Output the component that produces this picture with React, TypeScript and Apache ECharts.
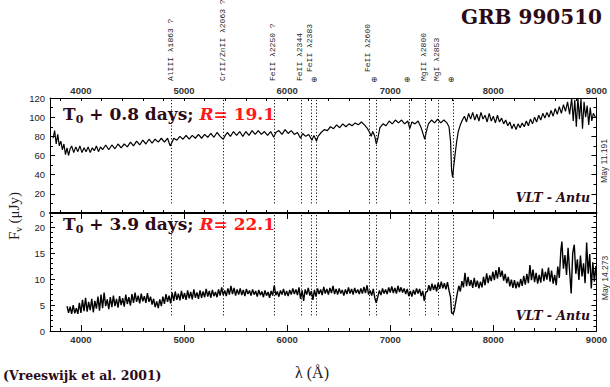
import React, { useEffect, useRef } from "react";
import * as echarts from "echarts";

// ---------- data ----------
const xMajorTicks = [4000, 5000, 6000, 7000, 8000, 9000];
const xMinorTicks = [3800, 4000, 4200, 4400, 4600, 4800, 5000, 5200, 5400, 5600, 5800, 6000, 6200, 6400, 6600, 6800, 7000, 7200, 7400, 7600, 7800, 8000, 8200, 8400, 8600, 8800];

const markerWavelengths = [4880, 5383, 5876, 6137, 6234, 6282, 6795, 6862, 7182, 7336, 7462, 7607];
const markerLabels = ["AlIII λ1863 ?", "CrII/ZnII λ2063 ?", "FeII λ2250 ?", "FeII λ2344", "FeII λ2383", "⊕", "FeII λ2600", "⊕", "⊕", "MgII λ2800", "MgI λ2853", "⊕"];

const upperSpectrum: [number, number][] = [
  [3730, 78], [3745, 86], [3760, 72], [3775, 82], [3790, 70], [3805, 75], [3820, 66], [3835, 72], [3850, 61], [3865, 68],
  [3880, 60], [3895, 67], [3910, 70], [3930, 63], [3950, 69], [3970, 64], [3990, 70], [4010, 63], [4030, 68], [4050, 64],
  [4070, 69], [4090, 63], [4110, 68], [4130, 65], [4150, 70], [4170, 64], [4190, 69], [4210, 66], [4240, 71], [4270, 66],
  [4300, 71], [4330, 67], [4360, 72], [4390, 68], [4420, 72], [4450, 69], [4480, 74], [4510, 70], [4540, 75], [4570, 71],
  [4600, 76], [4630, 72], [4660, 77], [4690, 73], [4720, 77], [4750, 74], [4780, 78], [4810, 74], [4840, 78], [4865, 70],
  [4885, 74], [4900, 78], [4930, 76], [4960, 80], [4990, 77], [5020, 81], [5050, 77], [5080, 81], [5110, 78], [5140, 82],
  [5170, 78], [5200, 82], [5230, 79], [5260, 83], [5290, 79], [5320, 84], [5350, 80], [5380, 77], [5400, 81], [5420, 84],
  [5450, 80], [5480, 85], [5510, 81], [5540, 85], [5570, 80], [5600, 85], [5630, 81], [5660, 86], [5690, 82], [5720, 86],
  [5750, 82], [5780, 85], [5810, 81], [5840, 85], [5870, 79], [5890, 84], [5920, 86], [5950, 82], [5980, 87], [6010, 83],
  [6040, 86], [6070, 82], [6100, 84], [6130, 78], [6150, 83], [6180, 80], [6210, 82], [6240, 76], [6260, 81], [6285, 75],
  [6300, 80], [6330, 84], [6360, 87], [6390, 86], [6420, 90], [6450, 88], [6480, 92], [6510, 89], [6540, 93], [6570, 90],
  [6600, 93], [6630, 91], [6660, 94], [6690, 92], [6720, 95], [6750, 92], [6780, 88], [6800, 84], [6815, 80], [6830, 85],
  [6850, 80], [6865, 72], [6880, 78], [6900, 89], [6930, 93], [6960, 91], [6990, 96], [7020, 93], [7050, 97], [7080, 94],
  [7110, 97], [7140, 93], [7170, 96], [7190, 88], [7210, 95], [7240, 93], [7270, 96], [7300, 89], [7320, 82], [7335, 77],
  [7350, 85], [7370, 93], [7400, 97], [7430, 94], [7460, 98], [7490, 94], [7520, 97], [7550, 94], [7570, 90], [7585, 75],
  [7595, 45], [7605, 37], [7615, 48], [7630, 62], [7645, 75], [7660, 85], [7680, 92], [7700, 97], [7720, 101], [7740, 95],
  [7760, 104], [7780, 98], [7800, 105], [7820, 97], [7840, 103], [7860, 96], [7880, 105], [7900, 98], [7920, 102], [7940, 95],
  [7960, 104], [7980, 96], [8000, 101], [8020, 94], [8040, 102], [8060, 95], [8080, 99], [8100, 93], [8120, 97], [8140, 91],
  [8160, 95], [8180, 88], [8200, 93], [8220, 87], [8240, 93], [8260, 89], [8280, 94], [8300, 90], [8320, 96], [8340, 91],
  [8360, 98], [8380, 93], [8400, 100], [8420, 95], [8440, 102], [8460, 97], [8480, 104], [8500, 99], [8520, 105], [8540, 100],
  [8560, 107], [8580, 101], [8600, 109], [8620, 103], [8640, 111], [8660, 104], [8680, 113], [8700, 106], [8720, 116], [8740, 103],
  [8760, 120], [8775, 96], [8790, 118], [8805, 90], [8820, 120], [8835, 98], [8850, 119], [8865, 88], [8880, 116], [8895, 100],
  [8910, 112], [8925, 92], [8940, 110], [8955, 96], [8970, 104], [8990, 100],
];

const lowerSpectrum: [number, number][] = [
  [3865, 4.8], [3880, 3.5], [3895, 4.7], [3910, 3.3], [3925, 5.0], [3940, 3.4], [3955, 4.4], [3970, 3.3], [3985, 5.4], [4000, 3.5],
  [4015, 6.0], [4030, 3.8], [4045, 6.4], [4060, 3.7], [4075, 5.6], [4090, 4.0], [4105, 6.2], [4120, 3.6], [4135, 5.8], [4150, 4.3],
  [4165, 6.6], [4180, 3.9], [4195, 7.0], [4210, 4.4], [4225, 7.4], [4240, 4.8], [4255, 6.1], [4270, 4.2], [4285, 6.5], [4300, 4.6],
  [4315, 6.8], [4330, 4.8], [4345, 6.2], [4360, 4.5], [4375, 6.7], [4390, 5.0], [4405, 6.3], [4420, 4.7], [4435, 7.0], [4450, 5.2],
  [4465, 6.5], [4480, 4.9], [4495, 7.1], [4510, 5.4], [4525, 7.4], [4540, 5.6], [4555, 6.8], [4570, 5.3], [4585, 7.2], [4600, 5.7],
  [4615, 6.7], [4630, 5.4], [4645, 7.3], [4660, 5.6], [4675, 6.6], [4690, 5.1], [4705, 6.2], [4720, 4.6], [4735, 5.7], [4750, 4.4],
  [4765, 6.1], [4780, 4.8], [4795, 6.6], [4810, 5.2], [4825, 7.1], [4840, 5.6], [4855, 6.8], [4870, 5.3], [4885, 7.4], [4900, 5.8],
  [4915, 7.6], [4930, 6.0], [4945, 7.2], [4960, 5.9], [4975, 7.7], [4990, 6.2], [5005, 7.3], [5020, 6.0], [5035, 7.8], [5050, 6.3],
  [5065, 7.5], [5080, 6.1], [5095, 8.0], [5110, 6.4], [5125, 7.4], [5140, 6.2], [5155, 7.8], [5170, 6.4], [5185, 7.6], [5200, 6.5],
  [5215, 8.1], [5230, 6.6], [5245, 7.7], [5260, 6.4], [5275, 7.9], [5290, 6.7], [5305, 7.5], [5320, 6.5], [5335, 8.0], [5350, 6.8],
  [5365, 8.4], [5380, 6.9], [5395, 7.8], [5410, 6.7], [5425, 8.2], [5440, 7.0], [5455, 8.7], [5470, 7.1], [5485, 8.3], [5500, 6.8],
  [5515, 8.0], [5530, 7.0], [5545, 8.2], [5560, 6.9], [5575, 7.9], [5590, 6.7], [5605, 8.1], [5620, 7.1], [5635, 7.8], [5650, 6.8],
  [5665, 8.0], [5680, 7.0], [5695, 7.7], [5710, 6.6], [5725, 7.9], [5740, 6.9], [5755, 7.6], [5770, 6.5], [5785, 7.8], [5800, 6.8],
  [5815, 7.5], [5830, 6.4], [5845, 7.7], [5860, 6.8], [5875, 8.8], [5890, 6.9], [5905, 7.6], [5920, 6.6], [5935, 7.8], [5950, 7.0],
  [5965, 8.1], [5980, 6.8], [5995, 7.7], [6010, 6.7], [6025, 7.9], [6040, 7.0], [6055, 8.2], [6070, 7.1], [6085, 8.0], [6100, 6.9],
  [6115, 8.4], [6130, 6.2], [6145, 7.8], [6160, 5.8], [6175, 8.0], [6190, 7.0], [6205, 8.3], [6220, 6.8], [6235, 7.7], [6250, 6.0],
  [6265, 7.9], [6280, 6.6], [6295, 8.2], [6310, 7.1], [6325, 8.0], [6340, 6.9], [6355, 8.5], [6370, 7.2], [6385, 8.1], [6400, 7.0],
  [6415, 8.3], [6430, 7.3], [6445, 8.7], [6460, 7.1], [6475, 8.1], [6490, 7.0], [6505, 8.2], [6520, 7.2], [6535, 7.9], [6550, 6.8],
  [6565, 8.0], [6580, 7.1], [6595, 8.4], [6610, 7.2], [6625, 8.1], [6640, 7.0], [6655, 8.3], [6670, 7.3], [6685, 8.0], [6700, 7.1],
  [6715, 8.2], [6730, 7.2], [6745, 8.5], [6760, 7.3], [6775, 8.8], [6790, 7.0], [6805, 7.8], [6820, 6.8], [6835, 8.1], [6850, 6.4],
  [6865, 5.4], [6880, 6.6], [6895, 7.8], [6910, 6.9], [6925, 8.2], [6940, 7.2], [6955, 8.0], [6970, 7.1], [6985, 8.4], [7000, 7.4],
  [7015, 8.6], [7030, 7.3], [7045, 8.3], [7060, 7.2], [7075, 8.7], [7090, 7.5], [7105, 8.4], [7120, 7.4], [7135, 8.2], [7150, 7.1],
  [7165, 8.1], [7180, 6.7], [7195, 7.7], [7210, 6.6], [7225, 7.9], [7240, 7.0], [7255, 8.2], [7270, 7.2], [7285, 8.1], [7300, 6.7],
  [7315, 7.7], [7330, 5.8], [7345, 7.5], [7360, 7.6], [7375, 8.8], [7390, 7.7], [7405, 9.1], [7420, 7.9], [7435, 8.9], [7450, 7.6],
  [7465, 9.3], [7480, 8.1], [7495, 9.5], [7510, 8.2], [7525, 9.2], [7540, 8.0], [7555, 9.4], [7570, 7.8], [7585, 6.5], [7595, 3.5],
  [7610, 3.3], [7620, 3.8], [7635, 5.5], [7650, 7.2], [7665, 8.7], [7680, 7.6], [7695, 9.6], [7710, 8.4], [7725, 11.2], [7740, 8.6],
  [7755, 10.4], [7770, 8.7], [7785, 9.8], [7800, 8.3], [7815, 10.2], [7830, 8.5], [7845, 9.7], [7860, 8.2], [7875, 9.5], [7890, 8.4],
  [7905, 10.4], [7920, 8.8], [7935, 11.1], [7950, 9.2], [7965, 10.7], [7980, 9.6], [7995, 11.4], [8010, 9.8], [8025, 11.7], [8040, 10.1],
  [8055, 12.3], [8070, 10.4], [8085, 11.6], [8100, 9.7], [8115, 11.0], [8130, 9.2], [8145, 10.4], [8160, 8.6], [8175, 9.9], [8190, 8.3],
  [8205, 9.8], [8220, 8.2], [8235, 9.5], [8250, 8.4], [8265, 10.0], [8280, 8.7], [8295, 10.6], [8310, 8.9], [8325, 11.0], [8340, 9.2],
  [8355, 12.7], [8370, 9.8], [8385, 11.8], [8400, 9.4], [8415, 11.2], [8430, 9.1], [8445, 10.8], [8460, 9.3], [8475, 12.0], [8490, 9.6],
  [8505, 11.4], [8520, 9.9], [8535, 12.2], [8550, 9.5], [8565, 11.6], [8580, 9.1], [8595, 10.8], [8610, 8.8], [8625, 12.4], [8640, 10.2],
  [8655, 15.5], [8665, 17.2], [8680, 12.0], [8695, 14.6], [8710, 10.8], [8725, 16.0], [8740, 11.5], [8755, 7.2], [8770, 15.0], [8785, 16.6],
  [8800, 11.0], [8815, 13.8], [8830, 9.8], [8845, 14.5], [8860, 10.5], [8875, 13.0], [8890, 9.2], [8905, 17.0], [8920, 11.0], [8935, 14.8],
  [8950, 8.2], [8965, 13.2], [8980, 9.5], [8995, 12.5],
];

const upperLabel = { days: "0.8", mag: "19.1", date: "May 11.191" };
const lowerLabel = { days: "3.9", mag: "22.1", date: "May 14.273" };

// ---------- styles ----------
const DARK = "#2c0b16";
const RED = "#ff1a1a";
const X_MIN = 3700;
const X_MAX = 9000;

function xAxisDef(grid: number, position: "top" | "bottom", opts: any) {
  return {
    type: "value",
    gridIndex: grid,
    position,
    min: X_MIN,
    max: X_MAX,
    splitLine: { show: false },
    axisLine: opts.line
      ? { show: true, onZero: false, lineStyle: { color: "#000", width: opts.lineWidth || 1 } }
      : { show: false },
    axisTick: {
      show: true,
      inside: true,
      length: opts.tickLen,
      customValues: opts.ticks,
      lineStyle: { color: "#000", width: 1 },
    },
    axisLabel: opts.labels
      ? {
          show: true,
          customValues: xMajorTicks,
          formatter: (v: number) => String(v),
          margin: 3,
          fontFamily: "Liberation Sans",
          fontSize: 9.5,
          fontWeight: "bold",
          color: "#333",
        }
      : { show: false },
  };
}

function yAxisDef(grid: number, position: "left" | "right", max: number, interval: number, minorSplit: number) {
  return {
    type: "value",
    gridIndex: grid,
    position,
    min: 0,
    max,
    interval,
    splitLine: { show: false },
    axisLine: { show: true, onZero: false, lineStyle: { color: "#000", width: 1 } },
    axisTick: { show: true, inside: true, length: 5, lineStyle: { color: "#000" } },
    minorTick: { show: true, splitNumber: minorSplit, length: 3, lineStyle: { color: "#000" } },
    axisLabel:
      position === "left"
        ? {
            show: true,
            margin: 5,
            fontFamily: "Liberation Sans",
            fontSize: 9.5,
            color: "#222",
            showMaxLabel: max % interval === 0,
          }
        : { show: false },
  };
}

function markLineFor(yLow: number, yHigh: number) {
  return {
    symbol: "none",
    silent: true,
    label: { show: false },
    lineStyle: { type: [1.2, 2], color: "#111", width: 1 },
    data: markerWavelengths.map((w) => [{ coord: [w, yLow] }, { coord: [w, yHigh] }]),
  };
}

const UPPER_MAX = 120;
const LOWER_MAX = 22.7;

const option: any = {
  animation: false,
  backgroundColor: "#fff",
  grid: [
    { left: 50, right: 12, top: 98, height: 115 },
    { left: 50, right: 12, top: 213, height: 118 },
  ],
  xAxis: [
    xAxisDef(0, "top", { line: true, labels: true, ticks: xMinorTicks, tickLen: 3 }),
    xAxisDef(0, "top", { line: false, labels: false, ticks: xMajorTicks, tickLen: 6 }),
    xAxisDef(0, "bottom", { line: true, lineWidth: 2, labels: false, ticks: xMinorTicks, tickLen: 3 }),
    xAxisDef(1, "bottom", { line: true, labels: true, ticks: xMinorTicks, tickLen: 3 }),
    xAxisDef(1, "bottom", { line: false, labels: false, ticks: xMajorTicks, tickLen: 6 }),
  ],
  yAxis: [
    yAxisDef(0, "left", UPPER_MAX, 20, 2),
    yAxisDef(0, "right", UPPER_MAX, 20, 2),
    yAxisDef(1, "left", LOWER_MAX, 5, 5),
    yAxisDef(1, "right", LOWER_MAX, 5, 5),
  ],
  series: [
    {
      type: "line",
      xAxisIndex: 0,
      yAxisIndex: 0,
      data: upperSpectrum,
      showSymbol: false,
      symbol: "none",
      lineStyle: { color: "#000", width: 1.2 },
      markLine: markLineFor(10, UPPER_MAX),
    },
    {
      type: "line",
      xAxisIndex: 3,
      yAxisIndex: 2,
      data: lowerSpectrum,
      showSymbol: false,
      symbol: "none",
      lineStyle: { color: "#000", width: 1.4 },
      markLine: markLineFor(3, LOWER_MAX),
    },
  ],
};

function epochText(x: number, y: number, lab: { days: string; mag: string }) {
  return {
    type: "text",
    x,
    y,
    style: {
      text: `{a|T}{s|0}{a| + ${lab.days} days; }{r|R}{b|= ${lab.mag}}`,
      align: "left",
      verticalAlign: "middle",
      textAlign: "left",
      textVerticalAlign: "middle",
      rich: {
        a: { fontFamily: "DejaVu Serif", fontWeight: "bold", fontSize: 17, fill: DARK, lineHeight: 22 },
        s: { fontFamily: "DejaVu Serif", fontWeight: "bold", fontSize: 11, fill: DARK, lineHeight: 12, verticalAlign: "bottom" },
        r: { fontFamily: "DejaVu Serif", fontWeight: "bold", fontStyle: "italic", fontSize: 17, fill: RED, lineHeight: 22 },
        b: { fontFamily: "DejaVu Serif", fontWeight: "bold", fontSize: 17, fill: RED, lineHeight: 22 },
      },
    },
  };
}

function plainText(x: number, y: number, text: string, style: any, rotation = 0) {
  return {
    type: "text",
    x,
    y,
    rotation,
    style: { text, ...style },
  };
}

export default function App() {
  const ref = useRef<HTMLDivElement>(null);
  useEffect(() => {
    const chart = echarts.init(ref.current!, null, { renderer: "svg" });
    chart.setOption(option);

    const markerGraphics: any[] = [];
    markerWavelengths.forEach((w, i) => {
      const px = Math.round(chart.convertToPixel({ xAxisIndex: 0 }, w) as number);
      const label = markerLabels[i];
      if (label === "⊕") {
        markerGraphics.push(
          plainText(px - 2, 79, label, {
            fontFamily: "DejaVu Sans",
            fontSize: 8,
            fill: "#222",
            align: "center",
            verticalAlign: "middle",
            textAlign: "center",
            textVerticalAlign: "middle",
          })
        );
      } else {
        const next = markerLabels[i + 1];
        const nextW = markerWavelengths[i + 1];
        const raised = next === "⊕" && nextW - w < 100;
        markerGraphics.push(
          plainText(
            px - 2,
            raised ? 72 : 81,
            label,
            {
              fontFamily: "Liberation Mono",
              fontSize: 8,
              fill: "#222",
              align: "left",
              verticalAlign: "middle",
              textAlign: "left",
              textVerticalAlign: "middle",
            },
            Math.PI / 2
          )
        );
      }
    });

    const rightStyle = {
      fontFamily: "Liberation Sans",
      fontSize: 8.5,
      fill: "#333",
      align: "center",
      verticalAlign: "middle",
      textAlign: "center",
      textVerticalAlign: "middle",
    };
    const vltStyle = {
      fontFamily: "DejaVu Serif",
      fontWeight: "bold",
      fontStyle: "italic",
      fontSize: 12.5,
      fill: DARK,
      align: "right",
      verticalAlign: "middle",
      textAlign: "right",
      textVerticalAlign: "middle",
    };

    const staticGraphics: any[] = [
      plainText(602, 17, "GRB 990510", {
        fontFamily: "DejaVu Serif",
        fontWeight: "bold",
        fontSize: 20,
        fill: DARK,
        align: "right",
        verticalAlign: "middle",
        textAlign: "right",
        textVerticalAlign: "middle",
      }),
      epochText(63, 114, upperLabel),
      epochText(63, 224, lowerLabel),
      plainText(590, 197, "VLT - Antu", vltStyle),
      plainText(590, 315, "VLT - Antu", vltStyle),
      plainText(604, 161, upperLabel.date, rightStyle, Math.PI / 2),
      plainText(605, 278, lowerLabel.date, rightStyle, Math.PI / 2),
      {
        type: "text",
        x: 14,
        y: 216,
        rotation: Math.PI / 2,
        style: {
          text: "{f|F}{n|ν}{f| (μJy)}",
          align: "center",
          verticalAlign: "middle",
          textAlign: "center",
          textVerticalAlign: "middle",
          rich: {
            f: { fontFamily: "Liberation Serif", fontSize: 15, fill: "#222", lineHeight: 18 },
            n: { fontFamily: "Liberation Serif", fontSize: 10, fill: "#222", lineHeight: 10, verticalAlign: "bottom" },
          },
        },
      },
      plainText(312, 372, "λ (Å)", {
        fontFamily: "Liberation Serif",
        fontSize: 16,
        fill: "#222",
        align: "center",
        verticalAlign: "middle",
        textAlign: "center",
        textVerticalAlign: "middle",
      }),
      plainText(3, 375, "(Vreeswijk et al. 2001)", {
        fontFamily: "DejaVu Serif",
        fontWeight: "bold",
        fontSize: 12.5,
        fill: DARK,
        align: "left",
        verticalAlign: "middle",
        textAlign: "left",
        textVerticalAlign: "middle",
      }),
    ];

    chart.setOption({ graphic: [...staticGraphics, ...markerGraphics] });
    return () => chart.dispose();
  }, []);

  return <div ref={ref} style={{ position: "fixed", left: 0, top: 0, width: 610, height: 387 }} />;
}
